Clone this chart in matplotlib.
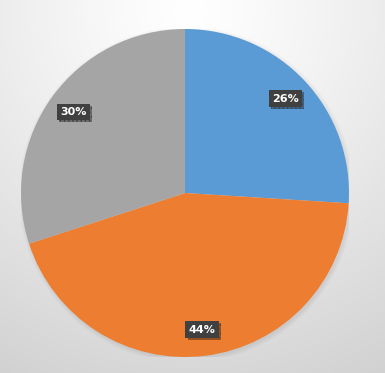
import numpy as np
import matplotlib
matplotlib.use("Agg")
import matplotlib.pyplot as plt
import matplotlib.patheffects as pe
from matplotlib.patches import Circle

# Data
labels = ["A", "B", "C"]
shares = [26, 44, 30]
colors = ["#5B9BD5", "#ED7D31", "#A5A5A5"]

plt.rcParams["hatch.color"] = "#4c4c4c"
plt.rcParams["hatch.linewidth"] = 0.6

W, H = 385, 373
fig = plt.figure(figsize=(W / 100, H / 100), dpi=100)

# radial gradient background
bg = fig.add_axes([0, 0, 1, 1])
yy, xx = np.mgrid[0:H, 0:W]
r = np.hypot(xx - 190, yy - 10)
val = 1.0 - 0.18 * np.clip(r / 410, 0, 1) ** 1.2
img = np.dstack([val, val, val])
bg.imshow(img, extent=[0, W, H, 0], aspect="auto")
bg.set_xlim(0, W)
bg.set_ylim(H, 0)
bg.axis("off")

# pie axes
cx, cy, rad = 185, 193, 164
ax = fig.add_axes([(cx - rad) / W, (H - cy - rad) / H, 2 * rad / W, 2 * rad / H])

# soft shadow under the pie
for i in range(6):
    ax.add_patch(Circle((0.008, -0.010), 1.0 + 0.005 * i, color="black",
                        alpha=0.012, lw=0, zorder=0))

wedges, texts, autotexts = ax.pie(
    shares, colors=colors, startangle=90, counterclock=False,
    radius=1, autopct="%d%%", pctdistance=0.84,
    wedgeprops=dict(linewidth=0), frame=True,
    textprops=dict(color="white", fontsize=8, fontweight="bold",
                   family="DejaVu Sans"))
ax.set_xlim(-1, 1)
ax.set_ylim(-1, 1)
ax.axis("off")

for t in autotexts:
    t.set_bbox(dict(boxstyle="square,pad=0.3", fc="#404040", ec="#404040",
                    hatch="....", lw=0))
    t.set_zorder(5)
    t.get_bbox_patch().set_path_effects(
        [pe.SimplePatchShadow(offset=(1.5, -1.5), shadow_rgbFace="black", alpha=0.35),
         pe.Normal()])

fig.savefig("out.png", dpi=100)
